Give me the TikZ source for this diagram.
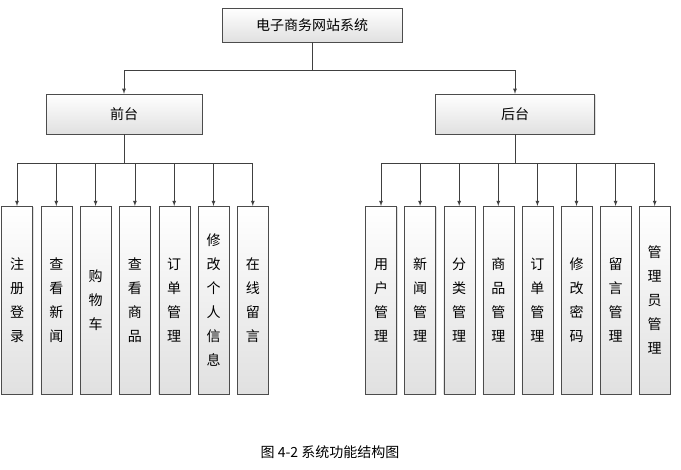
\documentclass[tikz,border=0pt]{standalone}
\usepackage{fontspec}
\setmainfont{Noto Sans CJK SC}
\usetikzlibrary{positioning,shadows}
\tikzset{
  box/.style={draw=black!70,top color=white,bottom color=black!12,drop shadow={opacity=0.25,shadow xshift=1pt,shadow yshift=-1pt},font=\fontsize{14}{16}\selectfont},
  vbox/.style={box,minimum width=31pt,minimum height=188pt,align=center,anchor=north,font=\fontsize{14}{24}\selectfont},
  arr/.style={draw=black!75,line width=0.8pt,-latex}
}
\begin{document}
\begin{tikzpicture}[x=1pt,y=-1pt]
\useasboundingbox (0,0) rectangle (681,470);
\node [box,minimum width=180pt,minimum height=34pt] (top) at (312,25) {电子商务网站系统};
\node [box,minimum width=156pt,minimum height=40pt] (qt) at (124,114) {前台};
\node [box,minimum width=159pt,minimum height=40pt] (ht) at (515,114) {后台};
\coordinate (j0) at (312,70);
\draw [draw=black!75,line width=0.8pt] (top.south) -- (j0);
\draw [arr] (j0) -| (qt.north);
\draw [arr] (j0) -| (ht.north);
% left side
\coordinate (j1) at (124,163);
\draw [draw=black!75,line width=0.8pt] (qt.south) -- (j1);
\foreach \t [count=\i] in {注\\册\\登\\录,查\\看\\新\\闻,购\\物\\车,查\\看\\商\\品,订\\单\\管\\理,修\\改\\个\\人\\信\\息,在\\线\\留\\言}{
  \node [vbox] (l\i) at ({17+39.3*(\i-1)},206) {\t};
  \draw [arr] (j1) -| (l\i.north);
}
% right side
\coordinate (j2) at (515,163);
\draw [draw=black!75,line width=0.8pt] (ht.south) -- (j2);
\foreach \t [count=\i] in {用\\户\\管\\理,新\\闻\\管\\理,分\\类\\管\\理,商\\品\\管\\理,订\\单\\管\\理,修\\改\\密\\码,留\\言\\管\\理,管\\理\\员\\管\\理}{
  \node [vbox] (r\i) at ({381+39.1*(\i-1)},206) {\t};
  \draw [arr] (j2) -| (r\i.north);
}
\node [font=\fontsize{14}{16}\selectfont] (cap) at (330,452) {图 4-2 系统功能结构图};
\end{tikzpicture}
\end{document}
